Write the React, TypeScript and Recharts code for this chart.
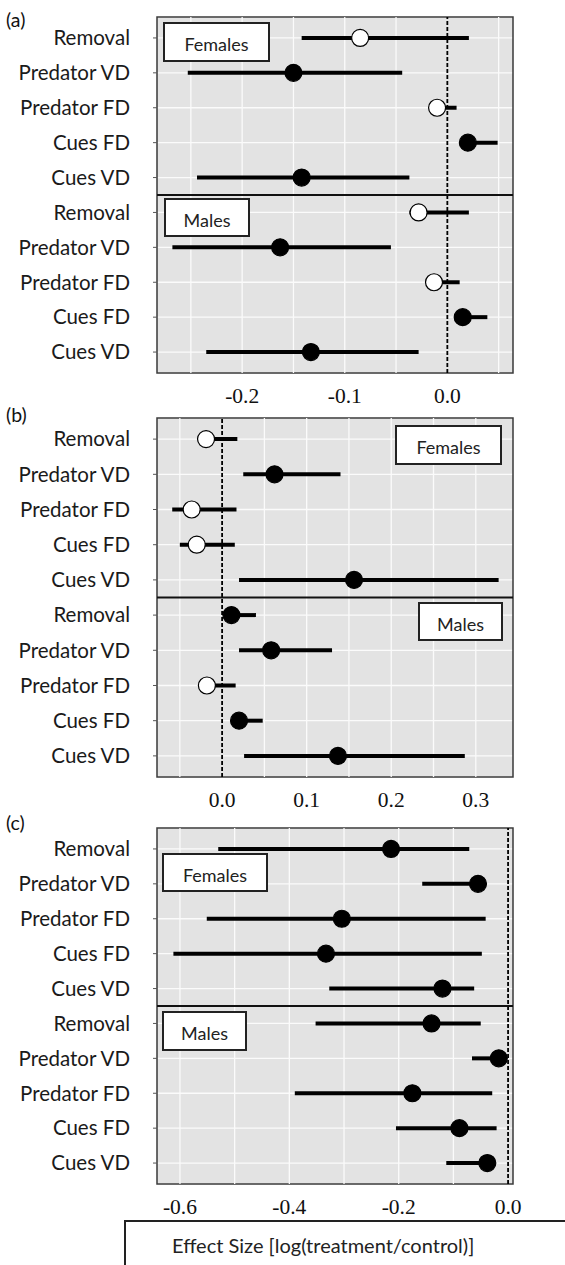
import React from "react"
import {
  ComposedChart,
  Scatter,
  ErrorBar,
  XAxis,
  YAxis,
  CartesianGrid,
  ReferenceLine,
  ReferenceArea,
} from "recharts"

// row labels, females first then males (top to bottom)
const rowLabels = ["Removal", "Predator VD", "Predator FD", "Cues FD", "Cues VD"]
const rowIds = [1, 2, 3, 4, 5, 6, 7, 8, 9, 10]

// panel (a)
const aEst = [-0.085, -0.15, -0.01, 0.02, -0.142, -0.028, -0.163, -0.013, 0.015, -0.133]
const aLow = [-0.142, -0.253, -0.016, 0.013, -0.244, -0.037, -0.268, -0.016, 0.01, -0.235]
const aHigh = [0.021, -0.044, 0.009, 0.049, -0.037, 0.021, -0.055, 0.012, 0.039, -0.028]
const aFilled = [false, true, false, true, true, false, true, false, true, true]
const aTicks = [-0.2, -0.1, 0.0]
const aGrid = [-0.25, -0.2, -0.15, -0.1, -0.05, 0.05]

// panel (b)
const bEst = [-0.019, 0.062, -0.036, -0.03, 0.156, 0.011, 0.058, -0.018, 0.02, 0.137]
const bLow = [-0.028, 0.025, -0.059, -0.05, 0.02, 0.004, 0.02, -0.024, 0.012, 0.026]
const bHigh = [0.018, 0.14, 0.017, 0.015, 0.327, 0.04, 0.13, 0.016, 0.048, 0.287]
const bFilled = [false, true, false, false, true, true, true, false, true, true]
const bTicks = [0.0, 0.1, 0.2, 0.3]
const bGrid = [-0.05, 0.05, 0.1, 0.15, 0.2, 0.25, 0.3]

// panel (c)
const cEst = [-0.214, -0.055, -0.304, -0.333, -0.12, -0.14, -0.017, -0.175, -0.089, -0.038]
const cLow = [-0.53, -0.157, -0.551, -0.612, -0.327, -0.352, -0.066, -0.39, -0.205, -0.113]
const cHigh = [-0.071, -0.046, -0.041, -0.048, -0.062, -0.05, -0.01, -0.029, -0.021, -0.03]
const cFilled = [true, true, true, true, true, true, true, true, true, true]
const cTicks = [-0.6, -0.4, -0.2, 0.0]
const cGrid = [-0.6, -0.5, -0.4, -0.3, -0.2, -0.1]

const labelFont = "Lato, 'Open Sans', sans-serif"
const tickFont = "Liberation Serif, DejaVu Serif, serif"

function buildRows(est: number[], low: number[], high: number[], filled: boolean[]) {
  return rowIds.map((row, i) => ({
    row,
    est: est[i],
    err: [est[i] - low[i], high[i] - est[i]],
    filled: filled[i],
  }))
}

const Dot = (props: any) => {
  const { cx, cy, payload } = props
  if (cx == null || cy == null) return null
  return (
    <circle
      cx={cx}
      cy={cy}
      r={8.5}
      fill={payload.filled ? "#000" : "#fff"}
      stroke="#000"
      strokeWidth={1.2}
    />
  )
}

// serif numbers under the panels
const XTick = (props: any) => {
  const { x, y, payload } = props
  return (
    <text
      x={x}
      y={y + 30}
      textAnchor="middle"
      style={{ fontFamily: tickFont, fontSize: 21.5 }}
      fill="#111"
    >
      {Number(payload.value).toFixed(1)}
    </text>
  )
}

interface PanelProps {
  top: number
  plotTop: number
  plotHeight: number
  domain: [number, number]
  ticks: number[]
  grid: number[]
  est: number[]
  low: number[]
  high: number[]
  filled: boolean[]
}

function Panel({ top, plotTop, plotHeight, domain, ticks, grid, est, low, high, filled }: PanelProps) {
  const data = buildRows(est, low, high, filled)
  const mTop = plotTop - top
  const height = mTop + plotHeight + 40
  return (
    <div style={{ position: "absolute", left: 0, top }}>
      <ComposedChart
        width={565}
        height={height}
        data={data}
        margin={{ top: mTop, right: 52, left: 0, bottom: 0 }}
      >
        <CartesianGrid fill="#e3e3e3" stroke="#fbfbfb" strokeWidth={1.3} vertical={false} />
        {grid.map((g) => (
          <ReferenceLine key={g} x={g} stroke="#fbfbfb" strokeWidth={1.3} />
        ))}
        <ReferenceLine x={0} stroke="#000" strokeWidth={1.8} strokeDasharray="4 2" />
        <ReferenceLine y={5.5} stroke="#111" strokeWidth={2} />
        <ReferenceArea
          x1={domain[0]}
          x2={domain[1]}
          y1={0.4}
          y2={10.6}
          fill="none"
          stroke="#3a3a3a"
          strokeWidth={1.5}
        />
        <XAxis
          type="number"
          dataKey="est"
          domain={domain}
          ticks={ticks}
          allowDataOverflow
          tickLine={false}
          axisLine={false}
          tickSize={0}
          tickMargin={0}
          height={40}
          tick={<XTick />}
        />
        <YAxis
          type="number"
          dataKey="row"
          reversed
          domain={[0.4, 10.6]}
          ticks={rowIds}
          interval={0}
          allowDataOverflow
          tickFormatter={(v: number) => rowLabels[(v - 1) % 5]}
          axisLine={false}
          tickSize={4}
          tickMargin={23}
          tickLine={{ stroke: "#555" }}
          width={157}
          tick={{ fill: "#1a1a1a", fontSize: 20.5, fontFamily: labelFont }}
        />
        <Scatter data={data} shape={<Dot />} isAnimationActive={false}>
          <ErrorBar dataKey="err" direction="x" width={0} stroke="#000" strokeWidth={4} />
        </Scatter>
      </ComposedChart>
    </div>
  )
}

const boxStyle = (left: number, top: number, width: number, height: number): React.CSSProperties => ({
  position: "absolute",
  left,
  top,
  width,
  height,
  boxSizing: "border-box",
  border: "2px solid #222",
  background: "#fff",
  display: "flex",
  alignItems: "center",
  justifyContent: "center",
  paddingTop: 4,
  fontFamily: labelFont,
  fontSize: 18,
  color: "#222",
})

const panelLabel = (top: number): React.CSSProperties => ({
  position: "absolute",
  left: 6,
  top,
  fontFamily: labelFont,
  fontSize: 19.5,
  color: "#111",
})

export default function App() {
  return (
    <div
      style={{
        position: "absolute",
        left: 0,
        top: 0,
        width: 565,
        height: 1265,
        overflow: "hidden",
        background: "#fff",
      }}
    >
      <Panel
        top={0}
        plotTop={17}
        plotHeight={356}
        domain={[-0.283, 0.064]}
        ticks={aTicks}
        grid={aGrid}
        est={aEst}
        low={aLow}
        high={aHigh}
        filled={aFilled}
      />
      <Panel
        top={400}
        plotTop={418}
        plotHeight={359}
        domain={[-0.077, 0.344]}
        ticks={bTicks}
        grid={bGrid}
        est={bEst}
        low={bLow}
        high={bHigh}
        filled={bFilled}
      />
      <Panel
        top={810}
        plotTop={828}
        plotHeight={356}
        domain={[-0.642, 0.009]}
        ticks={cTicks}
        grid={cGrid}
        est={cEst}
        low={cLow}
        high={cHigh}
        filled={cFilled}
      />

      <div style={panelLabel(8)}>(a)</div>
      <div style={panelLabel(403)}>(b)</div>
      <div style={panelLabel(811)}>(c)</div>

      <div style={boxStyle(163, 22, 107, 40)}>Females</div>
      <div style={boxStyle(164, 198, 86, 39)}>Males</div>
      <div style={boxStyle(395, 425, 107, 40)}>Females</div>
      <div style={boxStyle(418, 602, 85, 39)}>Males</div>
      <div style={boxStyle(162, 853, 106, 39)}>Females</div>
      <div style={boxStyle(162, 1011, 85, 40)}>Males</div>

      <div
        style={{
          position: "absolute",
          left: 124,
          top: 1220,
          width: 470,
          height: 60,
          boxSizing: "border-box",
          border: "2px solid #222",
          background: "#fff",
        }}
      >
        <div
          style={{
            position: "absolute",
            left: 46,
            top: 11,
            fontFamily: labelFont,
            fontSize: 20,
            color: "#222",
            whiteSpace: "nowrap",
          }}
        >
          Effect Size [log(treatment/control)]
        </div>
      </div>
    </div>
  )
}
